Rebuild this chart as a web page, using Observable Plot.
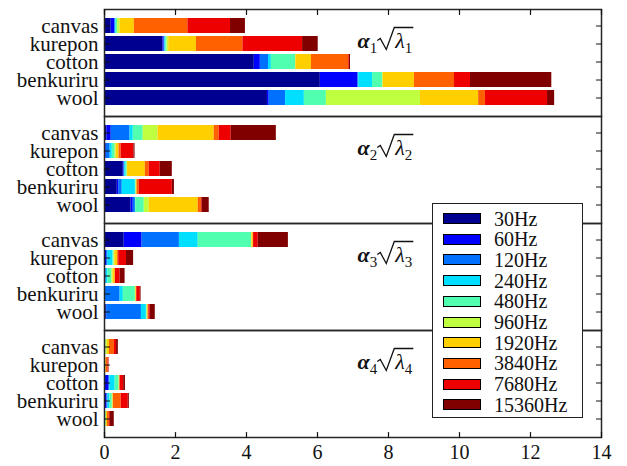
<!DOCTYPE html>
<html><head><meta charset="utf-8">
<script src="https://cdn.jsdelivr.net/npm/d3@7"></script>
<script src="https://cdn.jsdelivr.net/npm/@observablehq/plot@0.6"></script>
<style>
body{margin:0;background:#fff;}
#wrap{position:relative;width:627px;height:466px;font-family:"Liberation Serif",serif;}
#legend{position:absolute;left:432px;top:203px;width:151px;height:215px;border:1px solid #222;background:#fff;box-sizing:border-box;}
.sw{position:absolute;left:10px;width:38px;height:11px;border:1px solid #000;box-sizing:border-box;}
.lt{position:absolute;left:61px;font-size:20px;line-height:20px;color:#111;white-space:nowrap;}
</style></head><body><div id="wrap"></div>
<script>
const names = ["canvas", "kurepon", "cotton", "benkuriru", "wool"];
const freqs = ["30Hz", "60Hz", "120Hz", "240Hz", "480Hz", "960Hz", "1920Hz", "3840Hz", "7680Hz", "15360Hz"];
const colors = ["#000090", "#0000FF", "#0070FF", "#00DFFF", "#50FFB0", "#BFFF40", "#FFCF00", "#FF6000", "#EF0000", "#800000"];
const panels = [1, 2, 3, 4];
const xTicks = [0, 2, 4, 6, 8, 10, 12, 14];

// segment widths per material (rows: canvas, kurepon, cotton, benkuriru, wool; columns: freqs)
const alpha1 = [
  [0.19, 0.10, 0.02, 0.02, 0.04, 0.07, 0.40, 1.51, 1.20, 0.42],
  [1.65, 0.03, 0.02, 0.03, 0.03, 0.05, 0.78, 1.31, 1.68, 0.44],
  [4.22, 0.17, 0.23, 0.08, 0.68, 0.01, 0.44, 1.05, 0.02, 0.03],
  [6.08, 1.06, 0.02, 0.39, 0.28, 0.02, 0.88, 1.13, 0.45, 2.29],
  [4.59, 0.05, 0.46, 0.53, 0.62, 2.65, 1.64, 0.19, 1.75, 0.20]
];
const alpha2 = [
  [0.07, 0.12, 0.53, 0.09, 0.28, 0.42, 1.58, 0.14, 0.34, 1.27],
  [0.03, 0.02, 0.11, 0.06, 0.08, 0.03, 0.08, 0.06, 0.36, 0.03],
  [0.53, 0.02, 0.02, 0.04, 0.03, 0.01, 0.50, 0.11, 0.31, 0.34],
  [0.36, 0.05, 0.09, 0.37, 0.02, 0.01, 0.02, 0.06, 0.93, 0.06],
  [0.75, 0.06, 0.06, 0.01, 0.24, 0.14, 1.38, 0.09, 0.02, 0.20]
];
const alpha3 = [
  [0.555, 0.505, 1.05, 0.53, 1.50, 0.01, 0.04, 0.01, 0.13, 0.85],
  [0.02, 0.04, 0.04, 0.14, 0.03, 0.02, 0.08, 0.03, 0.22, 0.20],
  [0.02, 0.01, 0.02, 0.05, 0.11, 0.03, 0.06, 0.01, 0.13, 0.14],
  [0.01, 0.01, 0.42, 0.09, 0.34, 0.01, 0.02, 0.01, 0.10, 0.02],
  [0.05, 0.01, 0.98, 0.14, 0.02, 0.01, 0.02, 0.02, 0.04, 0.14]
];
const alpha4 = [
  [0.005, 0.005, 0.005, 0.005, 0.02, 0.04, 0.06, 0.14, 0.06, 0.05],
  [0.0, 0.0, 0.005, 0.005, 0.005, 0.005, 0.03, 0.05, 0.025, 0.005],
  [0.02, 0.11, 0.02, 0.15, 0.11, 0.01, 0.01, 0.01, 0.10, 0.05],
  [0.02, 0.05, 0.03, 0.05, 0.07, 0.02, 0.01, 0.22, 0.20, 0.03],
  [0.005, 0.005, 0.005, 0.01, 0.02, 0.01, 0.03, 0.05, 0.03, 0.11]
];
const values = [alpha1, alpha2, alpha3, alpha4];

const rows = [];
panels.forEach((p, pi) => names.forEach((n, ni) => freqs.forEach((f, fi) =>
  rows.push({panel: p, name: n, freq: f, value: values[pi][ni][fi]}))));
const tickRows = [];
panels.forEach(p => names.forEach(n => tickRows.push({panel: p, name: n})));

const tickShape = {draw(context, l) { context.moveTo(0, 0); context.lineTo(0, -l); }};

const plot = Plot.plot({
  width: 627, height: 466,
  marginLeft: 104, marginRight: 26, marginTop: 8, marginBottom: 28,
  style: {fontFamily: "Liberation Serif", fontSize: "20px", color: "#111", background: "white"},
  x: {domain: [0, 14], axis: null},
  y: {domain: names, paddingInner: 0.17, paddingOuter: 0.555, align: 0.45, axis: null},
  fy: {domain: panels, padding: 0, axis: null},
  color: {domain: freqs, range: colors},
  marks: [
    Plot.barX(rows, {x: "value", y: "name", fy: "panel", fill: "freq", order: freqs}),
    Plot.frame({stroke: "#262626", strokeWidth: 1.5}),
    Plot.axisY({tickSize: 0, tickPadding: 6, fontSize: 21, label: null}),
    Plot.axisX(xTicks, {tickSize: 0, tickPadding: 7, fontSize: 20, label: null}),
    Plot.vector(xTicks, {x: d => d, fy: () => 4, frameAnchor: "bottom", length: 5, rotate: 0, anchor: "start", shape: tickShape, strokeWidth: 1.2}),
    Plot.vector(xTicks, {x: d => d, fy: () => 1, frameAnchor: "top", length: 5, rotate: 180, anchor: "start", shape: tickShape, strokeWidth: 1.2}),
    Plot.vector(tickRows, {x: () => 0, y: "name", fy: "panel", length: 5, rotate: 90, anchor: "start", shape: tickShape, strokeWidth: 1.2}),
    Plot.vector(tickRows, {x: () => 14, y: "name", fy: "panel", length: 5, rotate: -90, anchor: "start", shape: tickShape, strokeWidth: 1.2}),
    Plot.text(panels, {fy: d => d, x: () => 7.13, frameAnchor: "top", dy: 38, text: d => "§" + d, textAnchor: "start", lineAnchor: "bottom", fontSize: 22, fill: "#111"})
  ]
});

const wrap = document.getElementById("wrap");
wrap.append(plot);

// math-style labels: bold alpha_k sqrt(lambda_k)
const NS = "http://www.w3.org/2000/svg";
Array.from(plot.querySelectorAll("text")).filter(t => t.textContent.startsWith("§")).forEach(t => {
  const k = t.textContent.slice(1);
  while (t.firstChild) t.removeChild(t.firstChild);
  const ts = (s, attrs) => { const e = document.createElementNS(NS, "tspan"); e.textContent = s; for (const a in attrs) e.setAttribute(a, attrs[a]); t.appendChild(e); return e; };
  ts("α", {"font-weight": "bold", "font-style": "italic"});
  ts(k, {"font-size": 15, dy: 5});
  ts("λ", {"font-style": "italic", dy: -5, dx: 18});
  ts(k, {"font-size": 15, dy: 5});
  try {
    const s = t.getStartPositionOfChar(2);
    const e = t.getEndPositionOfChar(3);
    const xl = s.x, yb = s.y, xe = e.x;
    const p = document.createElementNS(NS, "path");
    p.setAttribute("d", `M${xl - 18},${yb - 7}L${xl - 15},${yb - 9}L${xl - 9},${yb + 2}L${xl - 1},${yb - 20}L${xe + 1},${yb - 20}`);
    p.setAttribute("fill", "none");
    p.setAttribute("stroke", "#111");
    p.setAttribute("stroke-width", 1.3);
    if (t.getAttribute("transform")) p.setAttribute("transform", t.getAttribute("transform"));
    t.parentNode.appendChild(p);
  } catch (err) { console.error(err); }
});

// legend
const leg = document.createElement("div");
leg.id = "legend";
freqs.forEach((f, i) => {
  const c = 14.5 + i * 20.7;
  const sw = document.createElement("div");
  sw.className = "sw"; sw.style.top = (c - 5.5) + "px"; sw.style.background = colors[i];
  const lt = document.createElement("div");
  lt.className = "lt"; lt.style.top = (c - 10) + "px"; lt.textContent = f;
  leg.append(sw, lt);
});
wrap.append(leg);
</script>
</body></html>
